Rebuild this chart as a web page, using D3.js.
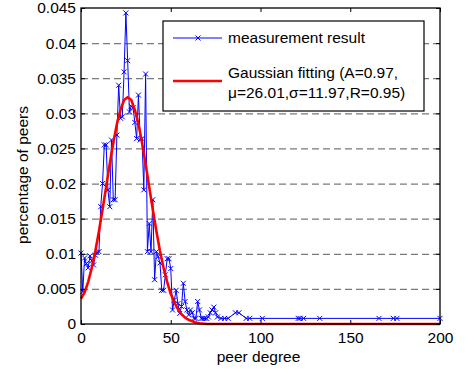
<!DOCTYPE html>
<html>
<head>
<meta charset="utf-8">
<script src="https://cdn.jsdelivr.net/npm/d3@7"></script>
<style>
  body { margin: 0; background: #fff; }
  text { font-family: "Liberation Sans", Arial, sans-serif; fill: #000; }
</style>
</head>
<body>
<svg></svg>
<script>
// measured peer degree distribution
const degrees = [0, 1, 2, 3, 4, 5, 6, 7, 8, 9, 10, 11, 12, 13, 14, 15, 16, 17, 18, 19,
  20, 21, 22, 23, 24, 25, 26, 27, 28, 29, 30, 31, 32, 33, 34, 35, 36, 37, 38, 39,
  40, 41, 42, 43, 44, 45, 46, 47, 48, 49, 50, 51, 52, 53, 54, 55, 56, 57, 58, 59,
  60, 61, 62, 63, 64, 65, 66, 67, 68, 69, 70, 71, 72, 73, 74, 75, 76, 78, 80, 82,
  86, 88, 92, 94, 101, 121, 122, 124, 133, 166, 174, 176, 200];
const shares = [0.0101, 0.0046, 0.0094, 0.0086, 0.0080, 0.0097, 0.0090, 0.0084, 0.0098, 0.0102,
  0.0103, 0.0167, 0.0200, 0.0255, 0.0255, 0.0191, 0.0167, 0.0262, 0.0177, 0.0177,
  0.0269, 0.0340, 0.0293, 0.0295, 0.0359, 0.0443, 0.0375, 0.0302, 0.0310, 0.0308,
  0.0287, 0.0264, 0.0326, 0.0262, 0.0264, 0.0191, 0.0356, 0.0103, 0.0143, 0.0103,
  0.0177, 0.0063, 0.0103, 0.0096, 0.0087, 0.0048, 0.0048, 0.0070, 0.0093, 0.0093,
  0.0079, 0.0020, 0.0034, 0.0048, 0.0029, 0.0015, 0.0025, 0.0058, 0.0032, 0.0020,
  0.0013, 0.0020, 0.0016, 0.0008, 0.0008, 0.0032, 0.0020, 0.0008, 0.0008, 0.0008,
  0.0008, 0.0010, 0.0016, 0.0020, 0.0024, 0.0016, 0.0010, 0.0008, 0.0008, 0.0008,
  0.0016, 0.0016, 0.0008, 0.0008, 0.0008, 0.0008, 0.0008, 0.0008, 0.0008, 0.0008,
  0.0008, 0.0008, 0.0008];

// gaussian fit curve
const fitDegrees = [0, 2, 4, 6, 8, 10, 12, 14, 16, 18, 20, 22, 24, 26, 28, 30, 32, 34, 36, 38,
  40, 42, 44, 46, 48, 50, 52, 54, 56, 58, 60, 62, 64, 66, 70, 80, 100, 150, 200];
const fitShares = [0.0036, 0.0045, 0.0060, 0.0080, 0.0104, 0.0132, 0.0163, 0.0195, 0.0228, 0.0258,
  0.0285, 0.0305, 0.0319, 0.0323, 0.0319, 0.0305, 0.0285, 0.0258, 0.0228, 0.0195,
  0.0163, 0.0132, 0.0104, 0.0080, 0.0060, 0.0043, 0.0031, 0.0021, 0.0014, 0.0009,
  0.0006, 0.0004, 0.0002, 0.0001, 0, 0, 0, 0, 0];

const xTicks = [0, 50, 100, 150, 200];
const xTickLabels = ["0", "50", "100", "150", "200"];
const yTicks = [0, 0.005, 0.01, 0.015, 0.02, 0.025, 0.03, 0.035, 0.04, 0.045];
const yTickLabels = ["0", "0.005", "0.01", "0.015", "0.02", "0.025", "0.03", "0.035", "0.04", "0.045"];
const legendLabels = ["measurement result", "Gaussian fitting (A=0.97,", "\u03bc=26.01,\u03c3=11.97,R=0.95)"];

const svgWidth = 468;
const svgHeight = 378;
const margin = {top: 8, right: 28, bottom: 54, left: 81};
const width = svgWidth - margin.left - margin.right;
const height = svgHeight - margin.top - margin.bottom;

const svg = d3.select("svg")
    .attr("width", svgWidth)
    .attr("height", svgHeight);

const g = svg.append("g").attr("transform", "translate(" + margin.left + "," + margin.top + ")");

const x = d3.scaleLinear().domain([0, 200]).range([0, width]);
const y = d3.scaleLinear().domain([0, 0.045]).range([height, 0]);

const fontSize = "15.5px";

// dashed horizontal grid
g.append("g")
    .call(d3.axisLeft(y).tickValues(yTicks.filter((d, i) => i > 0 && i < yTicks.length - 1))
        .tickSize(-width).tickFormat(""))
    .call(a => a.select(".domain").remove())
    .selectAll("line")
    .attr("stroke", "#7a7a7a")
    .attr("stroke-width", 1.2)
    .attr("stroke-dasharray", "7,4");

// measurement series
const data = degrees.map((d, i) => ({deg: d, v: shares[i]}));

const line = d3.line()
    .x(d => x(d.deg))
    .y(d => y(d.v));

g.append("path")
    .datum(data)
    .attr("fill", "none")
    .attr("stroke", "#0000ff")
    .attr("stroke-width", 1)
    .attr("d", line);

const cross = "M-2.5,-2.5L2.5,2.5M-2.5,2.5L2.5,-2.5";

g.append("g")
    .selectAll("path")
    .data(data)
    .join("path")
    .attr("transform", d => "translate(" + x(d.deg) + "," + y(d.v) + ")")
    .attr("d", cross)
    .attr("fill", "none")
    .attr("stroke", "#0000ff")
    .attr("stroke-width", 1);

// gaussian fit
const fit = fitDegrees.map((d, i) => ({deg: d, v: fitShares[i]}));

g.append("path")
    .datum(fit)
    .attr("fill", "none")
    .attr("stroke", "#ff0000")
    .attr("stroke-width", 2.6)
    .attr("stroke-linejoin", "round")
    .attr("d", line);

// axes, ticks pointing inward
g.append("g")
    .attr("transform", "translate(0," + height + ")")
    .call(d3.axisBottom(x).tickValues(xTicks).tickFormat((d, i) => xTickLabels[i])
        .tickSizeInner(-4).tickSizeOuter(0).tickPadding(8))
    .call(a => a.select(".domain").remove())
    .call(a => a.selectAll("text").style("font-size", fontSize).attr("fill", "#000"))
    .call(a => a.selectAll("line").attr("stroke", "#000"));

g.append("g")
    .call(d3.axisTop(x).tickValues(xTicks).tickFormat("").tickSizeInner(-4).tickSizeOuter(0))
    .call(a => a.select(".domain").remove())
    .call(a => a.selectAll("line").attr("stroke", "#000"));

g.append("g")
    .call(d3.axisLeft(y).tickValues(yTicks).tickFormat((d, i) => yTickLabels[i])
        .tickSizeInner(-4).tickSizeOuter(0).tickPadding(5))
    .call(a => a.select(".domain").remove())
    .call(a => a.selectAll("text").style("font-size", fontSize).attr("fill", "#000"))
    .call(a => a.selectAll("line").attr("stroke", "#000"));

g.append("g")
    .attr("transform", "translate(" + width + ",0)")
    .call(d3.axisRight(y).tickValues(yTicks).tickFormat("").tickSizeInner(-4).tickSizeOuter(0))
    .call(a => a.select(".domain").remove())
    .call(a => a.selectAll("line").attr("stroke", "#000"));

g.append("rect")
    .attr("width", width)
    .attr("height", height)
    .attr("fill", "none")
    .attr("stroke", "#000")
    .attr("stroke-width", 1.3);

// axis titles
g.append("text")
    .attr("x", width / 2 - 2)
    .attr("y", height + 38)
    .attr("text-anchor", "middle")
    .style("font-size", fontSize)
    .text("peer degree");

g.append("text")
    .attr("transform", "rotate(-90)")
    .attr("x", -(175 - margin.top))
    .attr("y", 23 - margin.left + 5)
    .attr("text-anchor", "middle")
    .style("font-size", fontSize)
    .text("percentage of peers");

// legend
const legend = svg.append("g").attr("transform", "translate(163,21)");

legend.append("rect")
    .attr("width", 261)
    .attr("height", 90)
    .attr("fill", "#fff")
    .attr("stroke", "#000")
    .attr("stroke-width", 1.2);

legend.append("line")
    .attr("x1", 10).attr("x2", 59)
    .attr("y1", 17).attr("y2", 17)
    .attr("stroke", "#0000ff")
    .attr("stroke-width", 1);

legend.append("path")
    .attr("transform", "translate(35,17)")
    .attr("d", cross)
    .attr("fill", "none")
    .attr("stroke", "#0000ff");

legend.append("line")
    .attr("x1", 10).attr("x2", 59)
    .attr("y1", 60).attr("y2", 60)
    .attr("stroke", "#ff0000")
    .attr("stroke-width", 2.6);

legend.selectAll("text")
    .data(legendLabels)
    .join("text")
    .attr("x", 65)
    .attr("y", (d, i) => [22, 56.5, 76.5][i])
    .style("font-size", fontSize)
    .text(d => d);
</script>
</body>
</html>
